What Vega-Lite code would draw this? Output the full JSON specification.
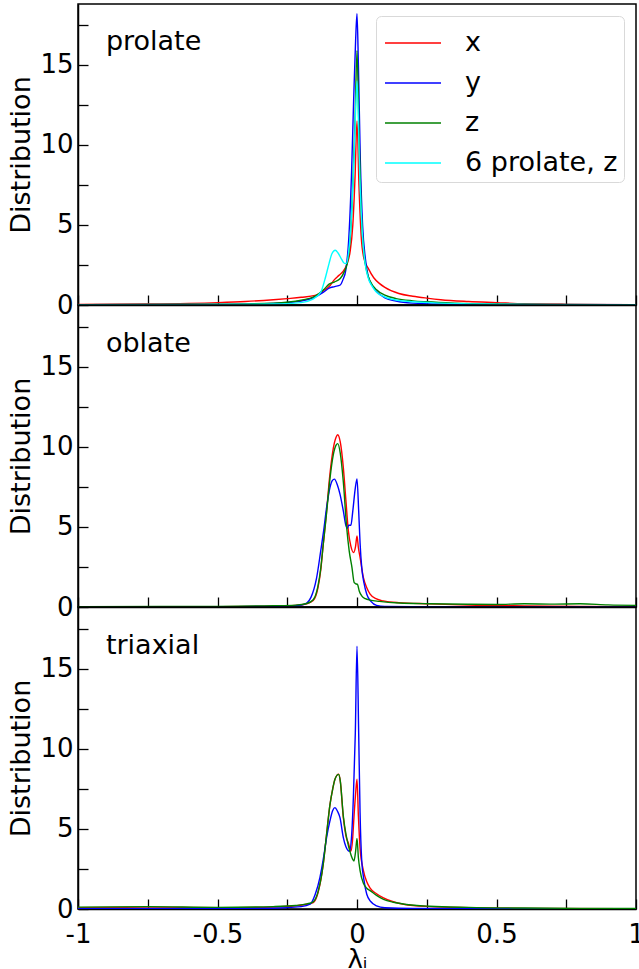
{
"$schema": "https://vega.github.io/schema/vega-lite/v6.json",
"padding": {"left": 7, "top": 3, "right": 3, "bottom": 0},
"background": "white",
"spacing": 0,
"bounds": "flush",
"config": {
  "font": "DejaVu Sans",
  "view": {"stroke": "black", "strokeWidth": 1.5},
  "concat": {"spacing": 0},
  "axis": {"domainColor": "black", "domainWidth": 1.5, "tickColor": "black", "tickWidth": 1.3, "tickSize": -10, "labelColor": "black", "titleColor": "black", "labelFont": "DejaVu Sans", "titleFont": "DejaVu Sans", "labelFontSize": 26, "titleFontSize": 27, "titleFontWeight": "normal", "grid": false, "labelOverlap": false, "labelFlush": false}
},
"data": {"values": [
{"p":"prolate","s":"x","l":-1,"v":0.03},{"p":"prolate","s":"x","l":-0.75,"v":0.06},{"p":"prolate","s":"x","l":-0.5,"v":0.15},{"p":"prolate","s":"x","l":-0.4,"v":0.22},{"p":"prolate","s":"x","l":-0.3,"v":0.33},{"p":"prolate","s":"x","l":-0.25,"v":0.4},{"p":"prolate","s":"x","l":-0.2,"v":0.48},{"p":"prolate","s":"x","l":-0.15,"v":0.6},{"p":"prolate","s":"x","l":-0.12,"v":0.9},{"p":"prolate","s":"x","l":-0.1,"v":1.15},{"p":"prolate","s":"x","l":-0.08,"v":1.6},{"p":"prolate","s":"x","l":-0.065,"v":1.85},{"p":"prolate","s":"x","l":-0.05,"v":2.1},{"p":"prolate","s":"x","l":-0.035,"v":2.6},{"p":"prolate","s":"x","l":-0.025,"v":3.3},{"p":"prolate","s":"x","l":-0.015,"v":5},{"p":"prolate","s":"x","l":-0.007,"v":8},{"p":"prolate","s":"x","l":0,"v":11.5},{"p":"prolate","s":"x","l":0.007,"v":7.5},{"p":"prolate","s":"x","l":0.015,"v":4.3},{"p":"prolate","s":"x","l":0.025,"v":2.9},{"p":"prolate","s":"x","l":0.04,"v":2.3},{"p":"prolate","s":"x","l":0.06,"v":1.7},{"p":"prolate","s":"x","l":0.08,"v":1.35},{"p":"prolate","s":"x","l":0.1,"v":1.1},{"p":"prolate","s":"x","l":0.15,"v":0.72},{"p":"prolate","s":"x","l":0.2,"v":0.55},{"p":"prolate","s":"x","l":0.25,"v":0.43},{"p":"prolate","s":"x","l":0.3,"v":0.33},{"p":"prolate","s":"x","l":0.4,"v":0.22},{"p":"prolate","s":"x","l":0.5,"v":0.15},{"p":"prolate","s":"x","l":0.6,"v":0.08},{"p":"prolate","s":"x","l":0.75,"v":0.04},{"p":"prolate","s":"x","l":1,"v":0.02},
{"p":"prolate","s":"y","l":-1,"v":0.02},{"p":"prolate","s":"y","l":-0.5,"v":0.04},{"p":"prolate","s":"y","l":-0.3,"v":0.1},{"p":"prolate","s":"y","l":-0.2,"v":0.25},{"p":"prolate","s":"y","l":-0.15,"v":0.5},{"p":"prolate","s":"y","l":-0.12,"v":0.8},{"p":"prolate","s":"y","l":-0.1,"v":1.05},{"p":"prolate","s":"y","l":-0.08,"v":1.15},{"p":"prolate","s":"y","l":-0.06,"v":1.25},{"p":"prolate","s":"y","l":-0.05,"v":1.6},{"p":"prolate","s":"y","l":-0.04,"v":2.2},{"p":"prolate","s":"y","l":-0.03,"v":4},{"p":"prolate","s":"y","l":-0.02,"v":8},{"p":"prolate","s":"y","l":-0.012,"v":12.8},{"p":"prolate","s":"y","l":-0.005,"v":16.5},{"p":"prolate","s":"y","l":0,"v":18.2},{"p":"prolate","s":"y","l":0.005,"v":15},{"p":"prolate","s":"y","l":0.012,"v":9},{"p":"prolate","s":"y","l":0.02,"v":5},{"p":"prolate","s":"y","l":0.03,"v":2.9},{"p":"prolate","s":"y","l":0.04,"v":1.8},{"p":"prolate","s":"y","l":0.055,"v":1.2},{"p":"prolate","s":"y","l":0.07,"v":0.85},{"p":"prolate","s":"y","l":0.1,"v":0.45},{"p":"prolate","s":"y","l":0.14,"v":0.25},{"p":"prolate","s":"y","l":0.2,"v":0.12},{"p":"prolate","s":"y","l":0.3,"v":0.06},{"p":"prolate","s":"y","l":0.5,"v":0.03},{"p":"prolate","s":"y","l":1,"v":0.02},
{"p":"prolate","s":"z","l":-1,"v":0.02},{"p":"prolate","s":"z","l":-0.5,"v":0.05},{"p":"prolate","s":"z","l":-0.3,"v":0.12},{"p":"prolate","s":"z","l":-0.2,"v":0.3},{"p":"prolate","s":"z","l":-0.15,"v":0.55},{"p":"prolate","s":"z","l":-0.12,"v":0.95},{"p":"prolate","s":"z","l":-0.1,"v":1.3},{"p":"prolate","s":"z","l":-0.08,"v":1.45},{"p":"prolate","s":"z","l":-0.06,"v":1.65},{"p":"prolate","s":"z","l":-0.045,"v":2.1},{"p":"prolate","s":"z","l":-0.035,"v":2.6},{"p":"prolate","s":"z","l":-0.025,"v":4},{"p":"prolate","s":"z","l":-0.015,"v":7.5},{"p":"prolate","s":"z","l":-0.007,"v":11.5},{"p":"prolate","s":"z","l":0,"v":15.9},{"p":"prolate","s":"z","l":0.007,"v":11},{"p":"prolate","s":"z","l":0.015,"v":6},{"p":"prolate","s":"z","l":0.025,"v":3.2},{"p":"prolate","s":"z","l":0.035,"v":2.1},{"p":"prolate","s":"z","l":0.047,"v":1.5},{"p":"prolate","s":"z","l":0.07,"v":0.95},{"p":"prolate","s":"z","l":0.1,"v":0.62},{"p":"prolate","s":"z","l":0.14,"v":0.4},{"p":"prolate","s":"z","l":0.2,"v":0.26},{"p":"prolate","s":"z","l":0.25,"v":0.2},{"p":"prolate","s":"z","l":0.35,"v":0.12},{"p":"prolate","s":"z","l":0.5,"v":0.06},{"p":"prolate","s":"z","l":0.7,"v":0.03},{"p":"prolate","s":"z","l":1,"v":0.02},
{"p":"prolate","s":"6 prolate, z","l":-1,"v":0.02},{"p":"prolate","s":"6 prolate, z","l":-0.5,"v":0.03},{"p":"prolate","s":"6 prolate, z","l":-0.3,"v":0.06},{"p":"prolate","s":"6 prolate, z","l":-0.2,"v":0.15},{"p":"prolate","s":"6 prolate, z","l":-0.16,"v":0.35},{"p":"prolate","s":"6 prolate, z","l":-0.13,"v":0.8},{"p":"prolate","s":"6 prolate, z","l":-0.115,"v":1.6},{"p":"prolate","s":"6 prolate, z","l":-0.1,"v":2.6},{"p":"prolate","s":"6 prolate, z","l":-0.09,"v":3.2},{"p":"prolate","s":"6 prolate, z","l":-0.078,"v":3.42},{"p":"prolate","s":"6 prolate, z","l":-0.068,"v":3.25},{"p":"prolate","s":"6 prolate, z","l":-0.055,"v":2.85},{"p":"prolate","s":"6 prolate, z","l":-0.045,"v":2.6},{"p":"prolate","s":"6 prolate, z","l":-0.038,"v":2.6},{"p":"prolate","s":"6 prolate, z","l":-0.03,"v":3.3},{"p":"prolate","s":"6 prolate, z","l":-0.02,"v":5.5},{"p":"prolate","s":"6 prolate, z","l":-0.01,"v":9.5},{"p":"prolate","s":"6 prolate, z","l":0,"v":14},{"p":"prolate","s":"6 prolate, z","l":0.01,"v":8},{"p":"prolate","s":"6 prolate, z","l":0.02,"v":4.2},{"p":"prolate","s":"6 prolate, z","l":0.03,"v":2.5},{"p":"prolate","s":"6 prolate, z","l":0.04,"v":1.7},{"p":"prolate","s":"6 prolate, z","l":0.055,"v":1.15},{"p":"prolate","s":"6 prolate, z","l":0.07,"v":0.8},{"p":"prolate","s":"6 prolate, z","l":0.1,"v":0.5},{"p":"prolate","s":"6 prolate, z","l":0.15,"v":0.28},{"p":"prolate","s":"6 prolate, z","l":0.2,"v":0.2},{"p":"prolate","s":"6 prolate, z","l":0.3,"v":0.12},{"p":"prolate","s":"6 prolate, z","l":0.5,"v":0.05},{"p":"prolate","s":"6 prolate, z","l":0.7,"v":0.02},{"p":"prolate","s":"6 prolate, z","l":1,"v":0.02},
{"p":"oblate","s":"x","l":-1,"v":0},{"p":"oblate","s":"x","l":-0.5,"v":0.02},{"p":"oblate","s":"x","l":-0.3,"v":0.05},{"p":"oblate","s":"x","l":-0.22,"v":0.1},{"p":"oblate","s":"x","l":-0.18,"v":0.2},{"p":"oblate","s":"x","l":-0.157,"v":0.4},{"p":"oblate","s":"x","l":-0.14,"v":1.2},{"p":"oblate","s":"x","l":-0.13,"v":2.3},{"p":"oblate","s":"x","l":-0.121,"v":3.9},{"p":"oblate","s":"x","l":-0.11,"v":5.8},{"p":"oblate","s":"x","l":-0.097,"v":8.3},{"p":"oblate","s":"x","l":-0.085,"v":9.9},{"p":"oblate","s":"x","l":-0.075,"v":10.6},{"p":"oblate","s":"x","l":-0.069,"v":10.75},{"p":"oblate","s":"x","l":-0.06,"v":10.3},{"p":"oblate","s":"x","l":-0.049,"v":8.7},{"p":"oblate","s":"x","l":-0.04,"v":6.7},{"p":"oblate","s":"x","l":-0.031,"v":4.75},{"p":"oblate","s":"x","l":-0.022,"v":3.8},{"p":"oblate","s":"x","l":-0.012,"v":3.4},{"p":"oblate","s":"x","l":-0.005,"v":3.8},{"p":"oblate","s":"x","l":0,"v":4.44},{"p":"oblate","s":"x","l":0.005,"v":3.7},{"p":"oblate","s":"x","l":0.011,"v":3.1},{"p":"oblate","s":"x","l":0.023,"v":1.83},{"p":"oblate","s":"x","l":0.035,"v":1.2},{"p":"oblate","s":"x","l":0.047,"v":0.8},{"p":"oblate","s":"x","l":0.07,"v":0.5},{"p":"oblate","s":"x","l":0.095,"v":0.38},{"p":"oblate","s":"x","l":0.15,"v":0.27},{"p":"oblate","s":"x","l":0.26,"v":0.2},{"p":"oblate","s":"x","l":0.4,"v":0.12},{"p":"oblate","s":"x","l":0.6,"v":0.07},{"p":"oblate","s":"x","l":0.8,"v":0.04},{"p":"oblate","s":"x","l":1,"v":0.02},
{"p":"oblate","s":"y","l":-1,"v":0},{"p":"oblate","s":"y","l":-0.5,"v":0.01},{"p":"oblate","s":"y","l":-0.3,"v":0.04},{"p":"oblate","s":"y","l":-0.2,"v":0.12},{"p":"oblate","s":"y","l":-0.18,"v":0.25},{"p":"oblate","s":"y","l":-0.165,"v":0.6},{"p":"oblate","s":"y","l":-0.145,"v":1.8},{"p":"oblate","s":"y","l":-0.13,"v":3.5},{"p":"oblate","s":"y","l":-0.12,"v":4.7},{"p":"oblate","s":"y","l":-0.109,"v":6.2},{"p":"oblate","s":"y","l":-0.097,"v":7.45},{"p":"oblate","s":"y","l":-0.088,"v":7.9},{"p":"oblate","s":"y","l":-0.081,"v":7.98},{"p":"oblate","s":"y","l":-0.07,"v":7.6},{"p":"oblate","s":"y","l":-0.061,"v":7.05},{"p":"oblate","s":"y","l":-0.049,"v":6},{"p":"oblate","s":"y","l":-0.04,"v":5.1},{"p":"oblate","s":"y","l":-0.035,"v":4.9},{"p":"oblate","s":"y","l":-0.03,"v":5.1},{"p":"oblate","s":"y","l":-0.022,"v":5.1},{"p":"oblate","s":"y","l":-0.015,"v":6},{"p":"oblate","s":"y","l":-0.007,"v":7.3},{"p":"oblate","s":"y","l":0,"v":8},{"p":"oblate","s":"y","l":0.006,"v":6},{"p":"oblate","s":"y","l":0.011,"v":4},{"p":"oblate","s":"y","l":0.017,"v":2.46},{"p":"oblate","s":"y","l":0.025,"v":1.5},{"p":"oblate","s":"y","l":0.035,"v":0.8},{"p":"oblate","s":"y","l":0.05,"v":0.35},{"p":"oblate","s":"y","l":0.07,"v":0.1},{"p":"oblate","s":"y","l":0.1,"v":0.04},{"p":"oblate","s":"y","l":0.3,"v":0.01},{"p":"oblate","s":"y","l":1,"v":0},
{"p":"oblate","s":"z","l":-1,"v":0.02},{"p":"oblate","s":"z","l":-0.7,"v":0.03},{"p":"oblate","s":"z","l":-0.5,"v":0.04},{"p":"oblate","s":"z","l":-0.3,"v":0.08},{"p":"oblate","s":"z","l":-0.22,"v":0.12},{"p":"oblate","s":"z","l":-0.18,"v":0.22},{"p":"oblate","s":"z","l":-0.157,"v":0.45},{"p":"oblate","s":"z","l":-0.14,"v":1.3},{"p":"oblate","s":"z","l":-0.13,"v":2.4},{"p":"oblate","s":"z","l":-0.121,"v":3.9},{"p":"oblate","s":"z","l":-0.11,"v":5.7},{"p":"oblate","s":"z","l":-0.097,"v":8},{"p":"oblate","s":"z","l":-0.085,"v":9.5},{"p":"oblate","s":"z","l":-0.075,"v":10.1},{"p":"oblate","s":"z","l":-0.069,"v":10.2},{"p":"oblate","s":"z","l":-0.06,"v":9.6},{"p":"oblate","s":"z","l":-0.049,"v":7.8},{"p":"oblate","s":"z","l":-0.037,"v":4.96},{"p":"oblate","s":"z","l":-0.028,"v":3.5},{"p":"oblate","s":"z","l":-0.018,"v":2.46},{"p":"oblate","s":"z","l":-0.01,"v":1.52},{"p":"oblate","s":"z","l":-0.004,"v":1.45},{"p":"oblate","s":"z","l":0.002,"v":1.4},{"p":"oblate","s":"z","l":0.008,"v":1},{"p":"oblate","s":"z","l":0.017,"v":0.69},{"p":"oblate","s":"z","l":0.03,"v":0.52},{"p":"oblate","s":"z","l":0.047,"v":0.43},{"p":"oblate","s":"z","l":0.08,"v":0.35},{"p":"oblate","s":"z","l":0.15,"v":0.25},{"p":"oblate","s":"z","l":0.26,"v":0.2},{"p":"oblate","s":"z","l":0.4,"v":0.17},{"p":"oblate","s":"z","l":0.5,"v":0.16},{"p":"oblate","s":"z","l":0.6,"v":0.2},{"p":"oblate","s":"z","l":0.7,"v":0.18},{"p":"oblate","s":"z","l":0.8,"v":0.2},{"p":"oblate","s":"z","l":0.9,"v":0.13},{"p":"oblate","s":"z","l":1,"v":0.1},
{"p":"triaxial","s":"x","l":-1,"v":0.08},{"p":"triaxial","s":"x","l":-0.75,"v":0.12},{"p":"triaxial","s":"x","l":-0.5,"v":0.08},{"p":"triaxial","s":"x","l":-0.3,"v":0.12},{"p":"triaxial","s":"x","l":-0.22,"v":0.2},{"p":"triaxial","s":"x","l":-0.18,"v":0.3},{"p":"triaxial","s":"x","l":-0.157,"v":0.4},{"p":"triaxial","s":"x","l":-0.14,"v":1},{"p":"triaxial","s":"x","l":-0.121,"v":2.8},{"p":"triaxial","s":"x","l":-0.11,"v":4.5},{"p":"triaxial","s":"x","l":-0.097,"v":6.5},{"p":"triaxial","s":"x","l":-0.087,"v":7.5},{"p":"triaxial","s":"x","l":-0.079,"v":8.1},{"p":"triaxial","s":"x","l":-0.066,"v":8.42},{"p":"triaxial","s":"x","l":-0.06,"v":8},{"p":"triaxial","s":"x","l":-0.049,"v":5.7},{"p":"triaxial","s":"x","l":-0.04,"v":4.6},{"p":"triaxial","s":"x","l":-0.03,"v":4.06},{"p":"triaxial","s":"x","l":-0.022,"v":3.6},{"p":"triaxial","s":"x","l":-0.016,"v":4.3},{"p":"triaxial","s":"x","l":-0.011,"v":5.7},{"p":"triaxial","s":"x","l":-0.005,"v":7.2},{"p":"triaxial","s":"x","l":0,"v":8.1},{"p":"triaxial","s":"x","l":0.005,"v":5.8},{"p":"triaxial","s":"x","l":0.011,"v":3.8},{"p":"triaxial","s":"x","l":0.023,"v":2.4},{"p":"triaxial","s":"x","l":0.035,"v":1.7},{"p":"triaxial","s":"x","l":0.047,"v":1.3},{"p":"triaxial","s":"x","l":0.07,"v":0.95},{"p":"triaxial","s":"x","l":0.095,"v":0.7},{"p":"triaxial","s":"x","l":0.13,"v":0.45},{"p":"triaxial","s":"x","l":0.167,"v":0.3},{"p":"triaxial","s":"x","l":0.26,"v":0.15},{"p":"triaxial","s":"x","l":0.4,"v":0.08},{"p":"triaxial","s":"x","l":0.6,"v":0.04},{"p":"triaxial","s":"x","l":1,"v":0.02},
{"p":"triaxial","s":"y","l":-1,"v":0.02},{"p":"triaxial","s":"y","l":-0.5,"v":0.03},{"p":"triaxial","s":"y","l":-0.3,"v":0.05},{"p":"triaxial","s":"y","l":-0.2,"v":0.15},{"p":"triaxial","s":"y","l":-0.168,"v":0.3},{"p":"triaxial","s":"y","l":-0.15,"v":0.9},{"p":"triaxial","s":"y","l":-0.133,"v":1.96},{"p":"triaxial","s":"y","l":-0.12,"v":3.2},{"p":"triaxial","s":"y","l":-0.109,"v":4.46},{"p":"triaxial","s":"y","l":-0.097,"v":5.5},{"p":"triaxial","s":"y","l":-0.087,"v":6.15},{"p":"triaxial","s":"y","l":-0.079,"v":6.33},{"p":"triaxial","s":"y","l":-0.07,"v":6.1},{"p":"triaxial","s":"y","l":-0.061,"v":5.7},{"p":"triaxial","s":"y","l":-0.049,"v":4.46},{"p":"triaxial","s":"y","l":-0.04,"v":3.9},{"p":"triaxial","s":"y","l":-0.032,"v":3.65},{"p":"triaxial","s":"y","l":-0.027,"v":3.6},{"p":"triaxial","s":"y","l":-0.02,"v":4.4},{"p":"triaxial","s":"y","l":-0.013,"v":6.96},{"p":"triaxial","s":"y","l":-0.006,"v":11},{"p":"triaxial","s":"y","l":0,"v":16.4},{"p":"triaxial","s":"y","l":0.006,"v":11},{"p":"triaxial","s":"y","l":0.011,"v":6},{"p":"triaxial","s":"y","l":0.017,"v":3},{"p":"triaxial","s":"y","l":0.025,"v":1.8},{"p":"triaxial","s":"y","l":0.035,"v":0.92},{"p":"triaxial","s":"y","l":0.05,"v":0.45},{"p":"triaxial","s":"y","l":0.07,"v":0.2},{"p":"triaxial","s":"y","l":0.1,"v":0.08},{"p":"triaxial","s":"y","l":0.2,"v":0.03},{"p":"triaxial","s":"y","l":1,"v":0.01},
{"p":"triaxial","s":"z","l":-1,"v":0.12},{"p":"triaxial","s":"z","l":-0.75,"v":0.15},{"p":"triaxial","s":"z","l":-0.5,"v":0.1},{"p":"triaxial","s":"z","l":-0.3,"v":0.15},{"p":"triaxial","s":"z","l":-0.22,"v":0.22},{"p":"triaxial","s":"z","l":-0.18,"v":0.32},{"p":"triaxial","s":"z","l":-0.157,"v":0.45},{"p":"triaxial","s":"z","l":-0.14,"v":1.05},{"p":"triaxial","s":"z","l":-0.121,"v":2.8},{"p":"triaxial","s":"z","l":-0.11,"v":4.5},{"p":"triaxial","s":"z","l":-0.097,"v":6.5},{"p":"triaxial","s":"z","l":-0.087,"v":7.5},{"p":"triaxial","s":"z","l":-0.079,"v":8.1},{"p":"triaxial","s":"z","l":-0.066,"v":8.4},{"p":"triaxial","s":"z","l":-0.06,"v":8},{"p":"triaxial","s":"z","l":-0.049,"v":5.8},{"p":"triaxial","s":"z","l":-0.04,"v":4.7},{"p":"triaxial","s":"z","l":-0.03,"v":3.9},{"p":"triaxial","s":"z","l":-0.02,"v":3.3},{"p":"triaxial","s":"z","l":-0.011,"v":3},{"p":"triaxial","s":"z","l":-0.005,"v":3.6},{"p":"triaxial","s":"z","l":0,"v":4.4},{"p":"triaxial","s":"z","l":0.005,"v":3.2},{"p":"triaxial","s":"z","l":0.011,"v":2.4},{"p":"triaxial","s":"z","l":0.023,"v":1.6},{"p":"triaxial","s":"z","l":0.035,"v":1.3},{"p":"triaxial","s":"z","l":0.047,"v":1.15},{"p":"triaxial","s":"z","l":0.07,"v":0.85},{"p":"triaxial","s":"z","l":0.095,"v":0.6},{"p":"triaxial","s":"z","l":0.13,"v":0.42},{"p":"triaxial","s":"z","l":0.17,"v":0.3},{"p":"triaxial","s":"z","l":0.26,"v":0.17},{"p":"triaxial","s":"z","l":0.4,"v":0.1},{"p":"triaxial","s":"z","l":0.6,"v":0.06},{"p":"triaxial","s":"z","l":0.8,"v":0.04},{"p":"triaxial","s":"z","l":1,"v":0.03}
]},
"resolve": {"scale": {"color": "independent"}, "legend": {"color": "independent"}},
"vconcat": [
{
  "width": 558, "height": 301,
  "layer": [
    {"transform": [{"filter": "datum.p == 'prolate'"}],
     "mark": {"type": "line", "strokeWidth": 1.4, "interpolate": "monotone", "clip": true},
     "encoding": {
       "x": {"field": "l", "type": "quantitative", "scale": {"domain": [-1, 1], "nice": false, "zero": false}, "axis": {"values": [-1,-0.75,-0.5,-0.25,0,0.25,0.5,0.75,1], "labels": false, "title": null, "labelPadding": 0}},
       "y": {"field": "v", "type": "quantitative", "scale": {"domain": [0, 18.8], "nice": false}, "axis": {"values": [0,2.5,5,7.5,10,12.5,15,17.5], "labelExpr": "datum.value % 5 == 0 ? format(datum.value, 'd') : ''", "labelPadding": 15, "title": "Distribution", "titlePadding": 4}},
       "color": {"field": "s", "type": "nominal", "sort": ["x","y","z","6 prolate, z"], "scale": {"domain": ["x","y","z","6 prolate, z"], "range": ["#ff0000","#0000ff","#008000","#00ffff"]},
         "legend": {"orient": "top-right", "offset": 12, "title": null, "symbolType": "M-1.4,0H1.4", "symbolSize": 1600, "symbolStrokeWidth": 1.4, "labelFontSize": 27, "labelFont": "DejaVu Sans", "labelColor": "black", "padding": 6, "rowPadding": 6, "symbolOffset": 10, "labelOffset": 31, "strokeColor": "#d9d9d9", "fillColor": "white", "cornerRadius": 5, "labelLimit": 300}}
     }},
    {"data": {"values": [{"t": "prolate", "l": -0.9, "v": 16.4}]},
     "mark": {"type": "text", "align": "left", "baseline": "middle", "fontSize": 27, "font": "DejaVu Sans", "color": "black"},
     "encoding": {"x": {"field": "l", "type": "quantitative"}, "y": {"field": "v", "type": "quantitative"}, "text": {"field": "t"}}}
  ]
},
{
  "width": 558, "height": 302,
  "layer": [
    {"transform": [{"filter": "datum.p == 'oblate'"}],
     "mark": {"type": "line", "strokeWidth": 1.4, "interpolate": "monotone", "clip": true},
     "encoding": {
       "x": {"field": "l", "type": "quantitative", "scale": {"domain": [-1, 1], "nice": false, "zero": false}, "axis": {"values": [-1,-0.75,-0.5,-0.25,0,0.25,0.5,0.75,1], "labels": false, "title": null, "labelPadding": 0}},
       "y": {"field": "v", "type": "quantitative", "scale": {"domain": [0, 18.85], "nice": false}, "axis": {"values": [0,2.5,5,7.5,10,12.5,15,17.5], "labelExpr": "datum.value % 5 == 0 ? format(datum.value, 'd') : ''", "labelPadding": 15, "title": "Distribution", "titlePadding": 4}},
       "color": {"field": "s", "type": "nominal", "sort": ["x","y","z"], "scale": {"domain": ["x","y","z"], "range": ["#ff0000","#0000ff","#008000"]}, "legend": null}
     }},
    {"data": {"values": [{"t": "oblate", "l": -0.9, "v": 16.4}]},
     "mark": {"type": "text", "align": "left", "baseline": "middle", "fontSize": 27, "font": "DejaVu Sans", "color": "black"},
     "encoding": {"x": {"field": "l", "type": "quantitative"}, "y": {"field": "v", "type": "quantitative"}, "text": {"field": "t"}}}
  ]
},
{
  "width": 558, "height": 302,
  "layer": [
    {"transform": [{"filter": "datum.p == 'triaxial'"}],
     "mark": {"type": "line", "strokeWidth": 1.4, "interpolate": "monotone", "clip": true},
     "encoding": {
       "x": {"field": "l", "type": "quantitative", "scale": {"domain": [-1, 1], "nice": false, "zero": false}, "axis": {"values": [-1,-0.75,-0.5,-0.25,0,0.25,0.5,0.75,1], "labelExpr": "datum.value == -1 ? '-1' : datum.value == -0.5 ? '-0.5' : datum.value == 0 ? '0' : datum.value == 0.5 ? '0.5' : datum.value == 1 ? '1' : ''", "labelPadding": 22, "title": "λᵢ", "titlePadding": -1, "titleFontSize": 26}},
       "y": {"field": "v", "type": "quantitative", "scale": {"domain": [0, 18.85], "nice": false}, "axis": {"values": [0,2.5,5,7.5,10,12.5,15,17.5], "labelExpr": "datum.value % 5 == 0 ? format(datum.value, 'd') : ''", "labelPadding": 15, "title": "Distribution", "titlePadding": 4}},
       "color": {"field": "s", "type": "nominal", "sort": ["x","y","z"], "scale": {"domain": ["x","y","z"], "range": ["#ff0000","#0000ff","#008000"]}, "legend": null}
     }},
    {"data": {"values": [{"t": "triaxial", "l": -0.9, "v": 16.4}]},
     "mark": {"type": "text", "align": "left", "baseline": "middle", "fontSize": 27, "font": "DejaVu Sans", "color": "black"},
     "encoding": {"x": {"field": "l", "type": "quantitative"}, "y": {"field": "v", "type": "quantitative"}, "text": {"field": "t"}}}
  ]
}
]
}
